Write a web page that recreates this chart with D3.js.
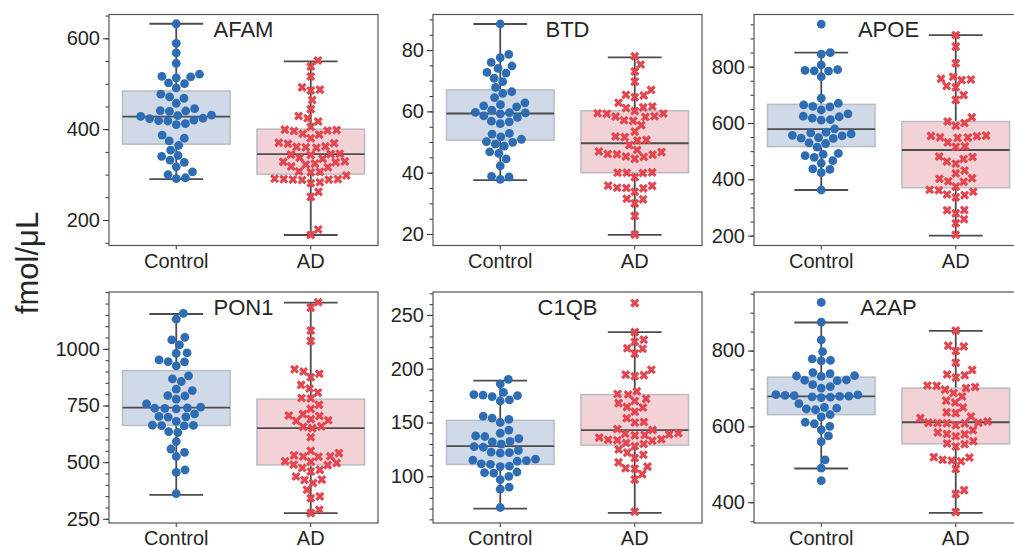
<!DOCTYPE html>
<html>
<head>
<meta charset="utf-8">
<script src="https://cdn.jsdelivr.net/npm/d3@7"></script>
<style>
  body { margin: 0; background: #fff; }
  text { font-family: "Liberation Sans", Arial, sans-serif; fill: #262626; }
</style>
</head>
<body>
<div id="chart"></div>
<script>
var proteins = ["AFAM", "BTD", "APOE", "PON1", "C1QB", "A2AP"];
var groups = ["Control", "AD"];

// values (fmol/uL)
var afamControl = [632, 589, 568, 545, 521, 516, 515, 513, 502, 500, 491, 477, 471, 468, 457, 445, 441, 440, 439, 431, 430, 428, 424, 423, 420, 419, 418, 412, 410, 387, 380, 374, 364, 354, 342, 340, 332, 327, 317, 306, 300, 293, 291];
var afamAD = [551, 538, 516, 492, 487, 485, 464, 444, 429, 424, 417, 405, 399, 398, 397, 396, 390, 388, 380, 370, 369, 368, 362, 361, 360, 359, 346, 345, 344, 343, 337, 335, 329, 328, 327, 324, 322, 318, 316, 307, 306, 305, 298, 291, 290, 290, 289, 289, 288, 283, 281, 262, 251, 179, 167];
var btdControl = [88.5, 78.6, 77.5, 76, 74.8, 74, 72.7, 72.5, 70.8, 69.7, 67.8, 66.4, 65.9, 64.5, 62.8, 62.2, 61.8, 61.5, 60.4, 59.7, 59.6, 59.5, 59.2, 58.5, 58, 56.8, 56.6, 56, 52.8, 52.6, 51.7, 50.9, 50.1, 49.9, 49.3, 48.7, 46.8, 46.3, 44.5, 42.2, 38.8, 38.6, 37.8];
var btdAD = [78, 75.3, 73, 69.7, 67, 65.4, 65.2, 64.6, 62.8, 61.6, 61.3, 61.1, 60.1, 59.4, 59.3, 59.2, 58.4, 58.3, 58.2, 57.1, 56.9, 55.5, 53.4, 51.8, 51.6, 50.7, 50.5, 49, 47.4, 46.9, 46.7, 46.1, 46, 45.9, 45.3, 45.1, 44.5, 40.1, 40, 40, 39.9, 38.5, 35.8, 35.7, 35.1, 35, 34.9, 33.8, 31.5, 31.3, 30, 25.9, 19.8];
var apoeControl = [951, 850, 844, 806, 789, 787, 785, 784, 764, 688, 670, 664, 659, 657, 646, 632, 624, 622, 617, 612, 610, 579, 567, 565, 561, 556, 554, 548, 546, 545, 529, 527, 514, 492, 489, 484, 478, 466, 457, 437, 435, 424, 362];
var apoeAD = [912, 871, 812, 764, 757, 754, 752, 731, 727, 699, 682, 620, 605, 600, 590, 555, 554, 553, 549, 548, 547, 531, 517, 515, 481, 479, 472, 463, 455, 431, 421, 404, 402, 393, 391, 374, 363, 361, 356, 346, 344, 336, 291, 290, 279, 258, 244, 203];
var pon1Control = [1157, 1131, 1051, 1040, 1018, 982, 980, 951, 944, 943, 925, 881, 868, 856, 822, 816, 794, 792, 778, 757, 743, 740, 738, 737, 735, 713, 702, 700, 699, 680, 663, 662, 661, 660, 635, 631, 591, 558, 543, 525, 466, 455, 361];
var pon1AD = [1206, 1182, 1081, 1035, 910, 900, 890, 875, 841, 825, 807, 783, 781, 753, 735, 712, 706, 704, 690, 685, 683, 658, 656, 650, 610, 550, 540, 530, 526, 525, 524, 504, 502, 496, 489, 487, 474, 466, 459, 437, 423, 421, 408, 378, 349, 341, 290, 275];
var c1qbControl = [190, 186, 178, 176, 175.5, 175, 174, 171, 170, 156, 154, 153, 150, 143, 140, 137.5, 137, 135, 132.5, 132, 130, 127.5, 127, 124, 122.5, 122, 121.5, 116, 115, 114.5, 114, 111.5, 111, 109.5, 109, 104, 103.5, 103, 100, 97, 90, 88, 71];
var c1qbAD = [261, 234, 227, 225, 219, 218.5, 214, 199, 194.5, 194, 193, 179, 176.5, 176, 172, 170, 168, 164.5, 164, 160, 154, 150.5, 150, 144, 143, 140, 139.5, 139, 138.5, 138, 136, 134.5, 134, 133.5, 133, 131, 130, 128, 125, 122, 120, 117, 113, 109, 107.5, 107, 102, 97, 67];
var a2apControl = [927, 875, 828, 797, 778, 774, 773, 742, 739, 734, 733, 732, 723, 722, 721, 710, 705, 701, 684, 683, 682, 681, 680, 679, 678, 677, 676, 660, 650, 648, 646, 644, 631, 625, 611, 607, 600, 591, 575, 560, 512, 490, 457];
var a2apAD = [853, 813, 811, 799, 768, 749, 737, 735, 729, 708, 707, 704, 701, 697, 688, 679, 668, 663, 650, 637, 635, 626, 622, 613, 610, 609.5, 609, 608.5, 608, 603, 590, 584, 580, 579, 574, 561, 555, 553, 547, 519, 518, 512, 510, 508, 488, 432, 422, 374];

// box stats: [lower whisker, q1, median, q3, upper whisker]
var afamBox = [[290, 367, 427.5, 484, 632], [167, 301, 345, 400, 549]];
var btdBox = [[37.6, 50.6, 59.3, 67, 88.5], [19.7, 40, 49.6, 60.2, 77.6]];
var apoeBox = [[362, 516, 578, 666, 850], [200, 370, 504, 605, 912]];
var pon1Box = [[356, 662, 741, 904, 1154], [275, 488, 650, 778, 1204]];
var c1qbBox = [[70, 111, 128, 152, 189], [66, 129, 143, 176, 234]];
var a2apBox = [[489, 631, 679, 730, 874], [372, 554, 611, 701, 852]];

var yDomains = [[143.9, 652.4], [16.25, 91.6], [165, 985], [231.5, 1251], [56.6, 271.3], [345.3, 954.5]];
var majorTicks = [[200, 400, 600], [20, 40, 60, 80], [200, 400, 600, 800], [250, 500, 750, 1000], [100, 150, 200, 250], [400, 600, 800]];
var minorStep = [50, 5, 50, 50, 10, 50];

var points = [[afamControl, afamAD], [btdControl, btdAD], [apoeControl, apoeAD], [pon1Control, pon1AD], [c1qbControl, c1qbAD], [a2apControl, a2apAD]];
var boxes = [afamBox, btdBox, apoeBox, pon1Box, c1qbBox, a2apBox];

var colLeft = [109, 433, 754];
var rowTop = [14.5, 292];
var panelW = 269, panelH = 231;
var dotColor = "#2e6db4", crossColor = "#e4464f";
var boxFill = ["#cfd9e7", "#f2d1d7"];
var spacing = 9.2;

var svg = d3.select("#chart").append("svg")
    .attr("width", 1014)
    .attr("height", 546);

// seaborn style swarm: lowest value first, nearest free slot to the centre
function swarm(values, y, d) {
    var pts = values.map(function(v) { return {v: v, y: y(v)}; })
        .sort(function(a, b) { return a.v - b.v; });
    var placed = [];
    pts.forEach(function(p) {
        var near = placed.filter(function(q) { return Math.abs(q.y - p.y) < d; });
        var cands = [0];
        near.forEach(function(q) {
            var dx = Math.sqrt(d * d - (q.y - p.y) * (q.y - p.y));
            cands.push(q.dx + dx, q.dx - dx);
        });
        cands.sort(function(a, b) { return Math.abs(a) - Math.abs(b); });
        for (var i = 0; i < cands.length; i++) {
            var c = cands[i];
            var ok = near.every(function(q) {
                return (q.dx - c) * (q.dx - c) + (q.y - p.y) * (q.y - p.y) >= d * d - 0.01;
            });
            if (ok) { p.dx = c; break; }
        }
        placed.push(p);
    });
    return placed;
}

proteins.forEach(function(name, k) {
    var left = colLeft[k % 3], top = rowTop[Math.floor(k / 3)];
    var g = svg.append("g").attr("transform", "translate(" + left + "," + top + ")");

    var x = d3.scaleBand().domain(groups).range([0, panelW]);
    var y = d3.scaleLinear().domain(yDomains[k]).range([panelH, 0]);
    var bw = x.bandwidth() * 0.8;

    var minors = d3.range(Math.ceil(yDomains[k][0] / minorStep[k]) * minorStep[k], yDomains[k][1], minorStep[k]);

    g.append("g").attr("class", "y-minor")
        .call(d3.axisLeft(y).tickValues(minors).tickSize(3.5).tickFormat(""))
        .call(function(a) { a.select(".domain").remove(); a.selectAll("line").attr("stroke", "#333"); });
    g.append("g").attr("class", "y-axis")
        .call(d3.axisLeft(y).tickValues(majorTicks[k]).tickSize(6).tickPadding(3).tickFormat(d3.format("d")))
        .call(function(a) {
            a.select(".domain").remove();
            a.selectAll("line").attr("stroke", "#333");
            a.selectAll("text").attr("font-size", 20).attr("font-family", null);
        });
    g.append("g").attr("class", "x-axis")
        .attr("transform", "translate(0," + panelH + ")")
        .call(d3.axisBottom(x).tickSize(4).tickPadding(4))
        .call(function(a) {
            a.select(".domain").remove();
            a.selectAll("line").attr("stroke", "#333");
            a.selectAll("text").attr("font-size", 20).attr("font-family", null);
        });

    groups.forEach(function(grp, j) {
        var s = boxes[k][j];
        var cx = x(grp) + x.bandwidth() / 2;
        var bg = g.append("g");
        bg.append("line")
            .attr("x1", cx).attr("x2", cx).attr("y1", y(s[0])).attr("y2", y(s[1]))
            .attr("stroke", "#4d4d4d").attr("stroke-width", 1.8);
        bg.append("line")
            .attr("x1", cx).attr("x2", cx).attr("y1", y(s[3])).attr("y2", y(s[4]))
            .attr("stroke", "#4d4d4d").attr("stroke-width", 1.8);
        [s[0], s[4]].forEach(function(v) {
            bg.append("line")
                .attr("x1", cx - bw / 4).attr("x2", cx + bw / 4).attr("y1", y(v)).attr("y2", y(v))
                .attr("stroke", "#4d4d4d").attr("stroke-width", 1.8);
        });
        bg.append("rect")
            .attr("x", cx - bw / 2).attr("width", bw)
            .attr("y", y(s[3])).attr("height", y(s[1]) - y(s[3]))
            .attr("fill", boxFill[j]).attr("stroke", "#b9bcc2").attr("stroke-width", 1.5);
        bg.append("line")
            .attr("x1", cx - bw / 2).attr("x2", cx + bw / 2).attr("y1", y(s[2])).attr("y2", y(s[2]))
            .attr("stroke", "#4d4d4d").attr("stroke-width", 1.8);

        var sw = swarm(points[k][j], y, spacing);
        if (j === 0) {
            g.append("g").selectAll("circle")
                .data(sw).enter().append("circle")
                .attr("cx", function(d) { return cx + d.dx; })
                .attr("cy", function(d) { return d.y; })
                .attr("r", 4.4)
                .attr("fill", dotColor);
        } else {
            var sym = d3.symbol().type(d3.symbolCross).size(52);
            g.append("g").selectAll("path")
                .data(sw).enter().append("path")
                .attr("d", sym)
                .attr("transform", function(d) { return "translate(" + (cx + d.dx) + "," + d.y + ") rotate(45)"; })
                .attr("fill", crossColor);
        }
    });

    g.append("rect")
        .attr("width", panelW).attr("height", panelH)
        .attr("fill", "none").attr("stroke", "#555").attr("stroke-width", 1.2);

    g.append("text")
        .attr("x", panelW / 2).attr("y", 22.5)
        .attr("text-anchor", "middle")
        .attr("font-size", 22)
        .text(name);
});

svg.append("text")
    .attr("transform", "translate(38,263) rotate(-90)")
    .attr("text-anchor", "middle")
    .attr("font-size", 31)
    .text("fmol/\u03bcL");
</script>
</body>
</html>
